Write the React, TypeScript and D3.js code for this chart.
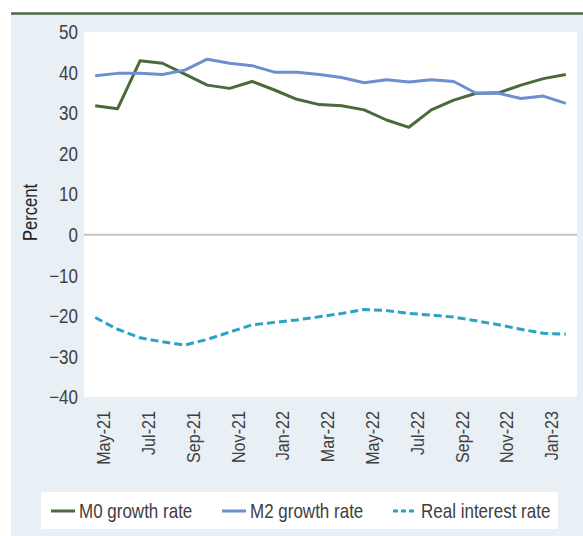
import React from "react";
import * as d3 from "d3";

const months = [
  "May-21","Jun-21","Jul-21","Aug-21","Sep-21","Oct-21","Nov-21","Dec-21",
  "Jan-22","Feb-22","Mar-22","Apr-22","May-22","Jun-22","Jul-22","Aug-22",
  "Sep-22","Oct-22","Nov-22","Dec-22","Jan-23","Feb-23",
];
const tickLabels = ["May-21","Jul-21","Sep-21","Nov-21","Jan-22","Mar-22","May-22","Jul-22","Sep-22","Nov-22","Jan-23"];
const yTicks = [50, 40, 30, 20, 10, 0, -10, -20, -30, -40];

const m0 = [31.8,31.1,42.9,42.3,39.6,36.9,36.1,37.8,35.7,33.4,32.1,31.8,30.8,28.3,26.5,30.8,33.2,34.9,35.0,36.9,38.5,39.5];
const m2 = [39.2,39.8,39.8,39.5,40.6,43.3,42.3,41.7,40.1,40.1,39.5,38.8,37.5,38.2,37.7,38.2,37.8,34.9,34.9,33.6,34.2,32.4];
const real = [-20.4,-23.3,-25.4,-26.4,-27.2,-25.8,-24.0,-22.2,-21.6,-21.0,-20.2,-19.4,-18.4,-18.7,-19.4,-19.8,-20.3,-21.2,-22.2,-23.3,-24.3,-24.5];

const seriesNames = ["M0 growth rate", "M2 growth rate", "Real interest rate"];
const colors = ["#4a6a3c", "#6b8fcf", "#2aa3c6"];

const FONT = "'Liberation Sans', Arial, sans-serif";
const TXT = "#404040";
const SX = 0.85; // horizontal condense

export default function App() {
  const W = 583, H = 536;
  const plot = { left: 84, right: 577, top: 32, bottom: 397 };
  const x = d3.scaleBand<string>().domain(months).range([plot.left, plot.right]).padding(0);
  const xc = (m: string) => (x(m) as number) + x.bandwidth() / 2;
  const y = d3.scaleLinear().domain([-40, 50]).range([plot.bottom, plot.top]);
  const line = d3.line<number>().x((_, i) => xc(months[i])).y((d) => y(d));
  const data = [m0, m2, real];

  return (
    <div style={{ position: "absolute", left: 0, top: 0 }}>
      <svg width={W} height={H} style={{ display: "block" }} fontFamily={FONT}>
        <rect x={11} y={14} width={W - 11} height={H - 14} fill="#e8f0f6" />
        <line x1={11} x2={W} y1={13.5} y2={13.5} stroke="#4d6b45" strokeWidth={2.5} />
        <rect x={plot.left} y={plot.top} width={plot.right - plot.left} height={plot.bottom - plot.top} fill="#ffffff" />
        <line x1={plot.left} x2={plot.right} y1={y(0)} y2={y(0)} stroke="#c6c6c6" strokeWidth={2} />
        {yTicks.map((t) => (
          <text key={t} transform={`translate(78,${y(t)}) scale(${SX},1)`} dy="0.36em" textAnchor="end" fontSize={20} fill={TXT}>
            {t < 0 ? "\u2212" + Math.abs(t) : String(t)}
          </text>
        ))}
        <text transform={`translate(37,${(plot.top + plot.bottom) / 2 - 2}) rotate(-90) scale(${SX},1)`} textAnchor="middle" fontSize={19.5} fill="#222">
          Percent
        </text>
        {tickLabels.map((m) => (
          <text key={m} transform={`translate(${xc(m) + 8},${plot.bottom + 14}) rotate(-90) scale(${SX},1)`} dy="0.36em" textAnchor="end" fontSize={19} fill={TXT}>
            {m}
          </text>
        ))}
        {data.map((d, k) => (
          <path key={k} d={line(d) || ""} fill="none" stroke={colors[k]} strokeWidth={3}
            strokeDasharray={k === 2 ? "8,4" : undefined} strokeLinejoin="round" />
        ))}
        <rect x={41} y={492} width={517} height={37} fill="#ffffff" />
        {seriesNames.map((n, k) => {
          const lx = [51, 222, 393][k];
          return (
            <g key={n}>
              <line x1={lx} x2={lx + 24} y1={511} y2={511} stroke={colors[k]} strokeWidth={3}
                strokeDasharray={k === 2 ? "5,3" : undefined} />
              <text transform={`translate(${lx + 28},511) scale(${SX},1)`} dy="0.36em" fontSize={20} fill={TXT}>{n}</text>
            </g>
          );
        })}
      </svg>
    </div>
  );
}
